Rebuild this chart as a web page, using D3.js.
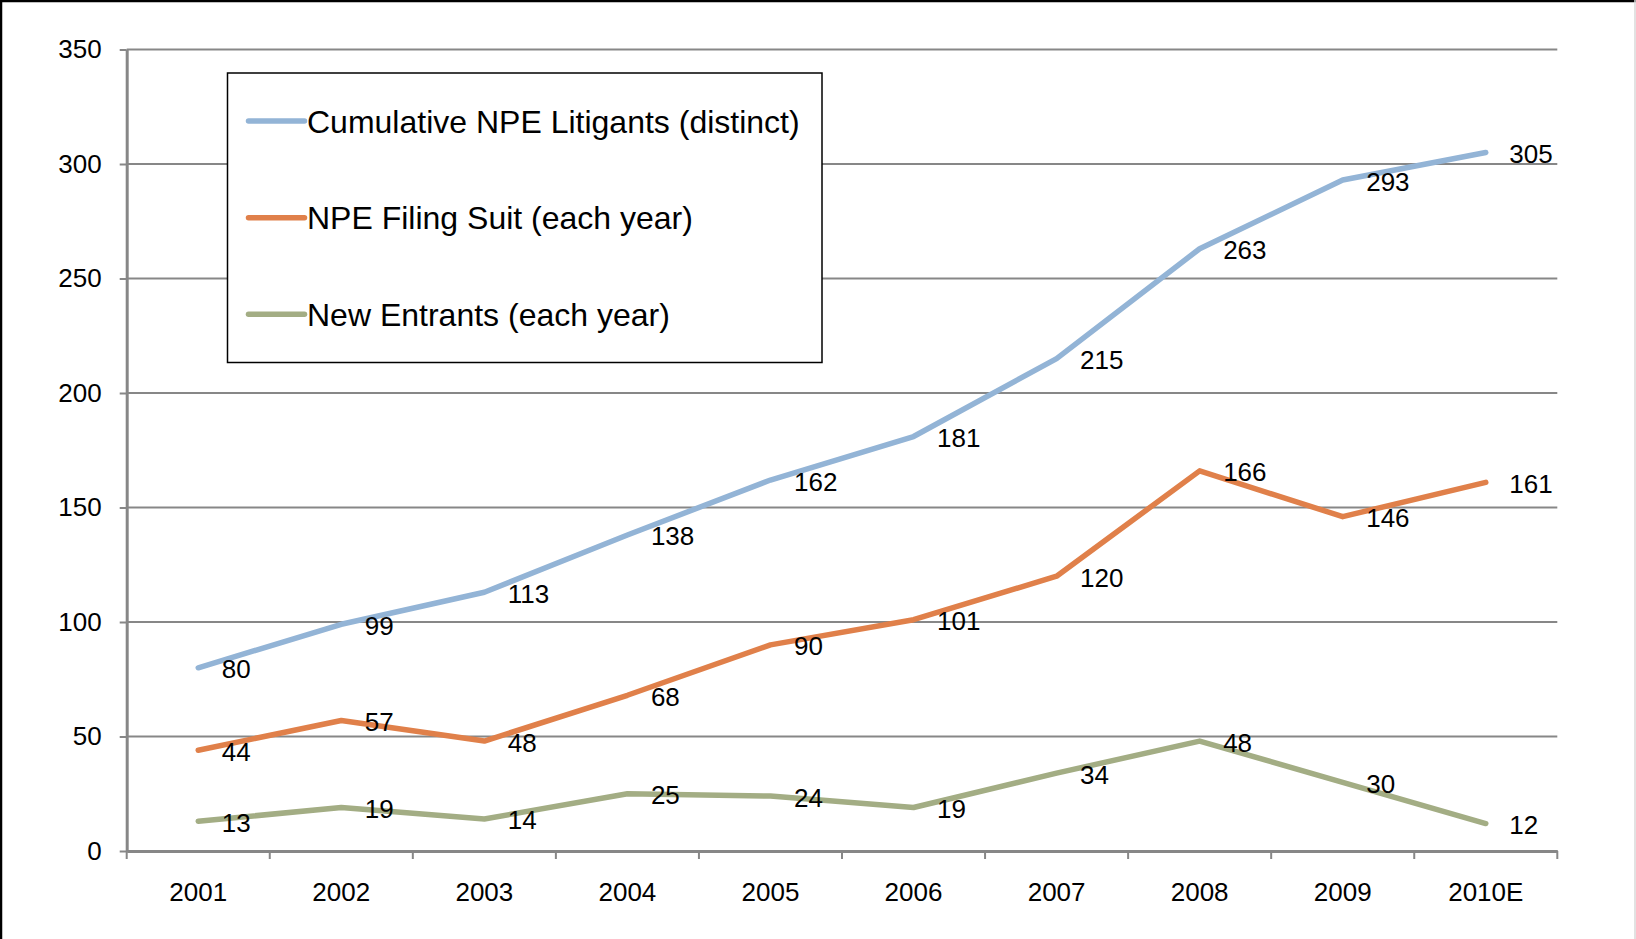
<!DOCTYPE html>
<html>
<head>
<meta charset="utf-8">
<script src="https://cdn.jsdelivr.net/npm/d3@7"></script>
<style>
  body { margin: 0; background: #fff; }
  svg { display: block; font-family: "Liberation Sans", Arial, sans-serif; }
</style>
</head>
<body>
<svg id="chart" width="1636" height="939"></svg>
<script>
var years = ["2001", "2002", "2003", "2004", "2005", "2006", "2007", "2008", "2009", "2010E"];
var cumulative = [80, 99, 113, 138, 162, 181, 215, 263, 293, 305];
var filing = [44, 57, 48, 68, 90, 101, 120, 166, 146, 161];
var entrants = [13, 19, 14, 25, 24, 19, 34, 48, 30, 12];
var yTicks = [0, 50, 100, 150, 200, 250, 300, 350];
var seriesNames = ["Cumulative NPE Litigants (distinct)", "NPE Filing Suit (each year)", "New Entrants (each year)"];
var seriesColors = ["#93b4d6", "#e0804a", "#a3ad84"];

var series = [cumulative, filing, entrants].map(function(values, i) {
    return { name: seriesNames[i], color: seriesColors[i], values: values };
});

var svg = d3.select("#chart");

var x = d3.scaleBand()
    .domain(years)
    .range([126.7, 1557.3])
    .padding(0);

var y = d3.scaleLinear()
    .domain([0, 350])
    .range([851, 49.5]);

var cx = function(d) { return x(d) + x.bandwidth() / 2; };

// frame edges
svg.append("line").attr("x1", 1).attr("y1", 0).attr("x2", 1).attr("y2", 939)
    .attr("stroke", "#000").attr("stroke-width", 2.5);
svg.append("line").attr("x1", 0).attr("y1", 1).attr("x2", 1636).attr("y2", 1)
    .attr("stroke", "#000").attr("stroke-width", 2.5);
svg.append("line").attr("x1", 1635).attr("y1", 0).attr("x2", 1635).attr("y2", 939)
    .attr("stroke", "#d9d9d9").attr("stroke-width", 1.5);

// gridlines
svg.append("g")
    .selectAll("line")
    .data(yTicks.filter(function(d) { return d > 0; }))
    .enter().append("line")
        .attr("x1", x.range()[0])
        .attr("x2", x.range()[1])
        .attr("y1", function(d) { return y(d); })
        .attr("y2", function(d) { return y(d); })
        .attr("stroke", "#878787")
        .attr("stroke-width", 2);

// y axis
var yAxis = svg.append("g")
    .attr("transform", "translate(" + x.range()[0] + ",0)")
    .call(d3.axisLeft(y).tickValues(yTicks).tickSize(7).tickPadding(18).tickSizeOuter(0));
yAxis.select(".domain").attr("stroke", "#878787").attr("stroke-width", 3);
yAxis.selectAll(".tick line").attr("stroke", "#878787").attr("stroke-width", 2);
yAxis.selectAll(".tick text")
    .attr("font-size", 26)
    .attr("font-family", "Liberation Sans, Arial, sans-serif")
    .attr("fill", "#000");

// x axis
var xAxis = svg.append("g")
    .attr("transform", "translate(0," + y(0) + ")")
    .call(d3.axisBottom(x).tickSize(0).tickPadding(32).tickSizeOuter(0));
xAxis.select(".domain").attr("stroke", "#878787").attr("stroke-width", 3);
xAxis.selectAll(".tick text")
    .attr("font-size", 26)
    .attr("font-family", "Liberation Sans, Arial, sans-serif")
    .attr("fill", "#000");

var boundaries = years.map(function(d) { return x(d); }).concat([x.range()[1]]);
svg.append("g")
    .selectAll("line")
    .data(boundaries)
    .enter().append("line")
        .attr("x1", function(d) { return d; })
        .attr("x2", function(d) { return d; })
        .attr("y1", y(0))
        .attr("y2", y(0) + 8)
        .attr("stroke", "#878787")
        .attr("stroke-width", 2);

// lines
var line = d3.line()
    .x(function(d, i) { return cx(years[i]); })
    .y(function(d) { return y(d); });

svg.append("g")
    .selectAll("path")
    .data(series)
    .enter().append("path")
        .attr("d", function(s) { return line(s.values); })
        .attr("fill", "none")
        .attr("stroke", function(s) { return s.color; })
        .attr("stroke-width", 5.5)
        .attr("stroke-linejoin", "round")
        .attr("stroke-linecap", "round");

// data labels, to the right of each point
series.forEach(function(s) {
    svg.append("g")
        .selectAll("text")
        .data(s.values)
        .enter().append("text")
            .attr("x", function(d, i) { return cx(years[i]) + 23.5; })
            .attr("y", function(d) { return y(d) + 10.5; })
            .attr("font-size", 26)
            .attr("fill", "#000")
            .text(function(d) { return d; });
});

// legend
var legend = svg.append("g").attr("class", "legend");
legend.append("rect")
    .attr("x", 227.5)
    .attr("y", 73)
    .attr("width", 594.5)
    .attr("height", 289.5)
    .attr("fill", "#fff")
    .attr("stroke", "#000")
    .attr("stroke-width", 1.5);

var rowY = d3.scalePoint()
    .domain(seriesNames)
    .range([121, 314.3]);

var rows = legend.selectAll(".row")
    .data(series)
    .enter().append("g")
        .attr("class", "row")
        .attr("transform", function(s) { return "translate(0," + rowY(s.name) + ")"; });

rows.append("line")
    .attr("x1", 248.5)
    .attr("x2", 304.5)
    .attr("stroke", function(s) { return s.color; })
    .attr("stroke-width", 5.5)
    .attr("stroke-linecap", "round");

rows.append("text")
    .attr("x", 307)
    .attr("y", 11.5)
    .attr("font-size", 32)
    .attr("fill", "#000")
    .text(function(s) { return s.name; });
</script>
</body>
</html>
